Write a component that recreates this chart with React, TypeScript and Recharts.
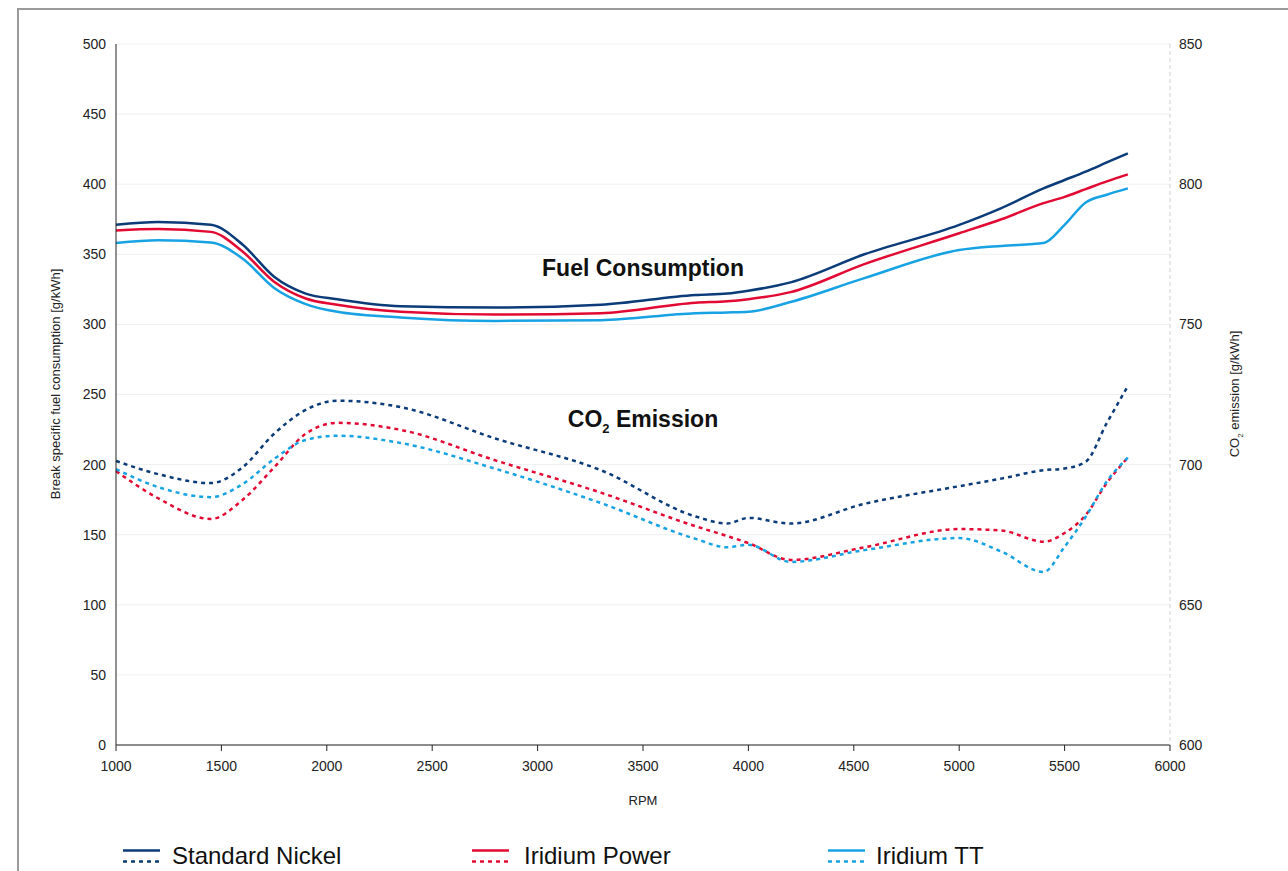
import React from 'react';
import { LineChart, Line, XAxis, YAxis, CartesianGrid } from 'recharts';

const rpm = [1000, 1200, 1450, 1600, 1750, 1900, 2050, 2350, 2800, 3300, 3750, 3900, 4000, 4200, 4550, 5000, 5200, 5400, 5500, 5600, 5700, 5800];

// fuel consumption, left axis [g/kWh]
const nickelFuel = [371, 373, 371, 357, 334, 322, 318, 313, 312, 314, 321, 322, 324, 330, 350, 371, 383, 397, 403, 409, 415.5, 422];
const powerFuel = [367, 368, 366, 352, 330.5, 318.5, 314, 309, 307, 308, 315.5, 316.5, 318, 323, 343, 365, 375, 386.5, 391, 396.5, 402, 407];
const ttFuel = [358, 360, 358.5, 347, 326, 314.5, 309, 305, 302.5, 303, 308, 308.5, 309, 316, 333, 353, 356, 358, 371, 387, 392.5, 397];

// CO2 emission, right axis [g/kWh]
const nickelCo2 = [701.3, 696.6, 693.4, 699, 711, 719.5, 722.8, 720.5, 709.3, 698, 681.5, 679, 681, 679, 686, 692.3, 695, 698, 698.6, 701, 714.8, 728];
const powerCo2 = [697.7, 688, 680.6, 687.4, 699, 711, 714.9, 712.4, 701.5, 690, 678, 674.5, 672, 666, 670.5, 677, 676.5, 672.5, 675.6, 682, 693.4, 702.5];
const ttCo2 = [698.4, 692, 688.4, 693, 702, 708.8, 710.3, 707.7, 698.5, 686.3, 673.5, 670.5, 671.4, 665.3, 669.5, 673.8, 669, 661.7, 670.7, 681.4, 694, 702.5];

const rpmTicks = [1000, 1500, 2000, 2500, 3000, 3500, 4000, 4500, 5000, 5500, 6000];
const fuelTicks = [0, 50, 100, 150, 200, 250, 300, 350, 400, 450, 500];
const co2Ticks = [600, 650, 700, 750, 800, 850];

const series = [
  { name: 'Standard Nickel', color: '#0b3b78', fuel: 'nickelFuel', co2: 'nickelCo2' },
  { name: 'Iridium Power', color: '#e20a33', fuel: 'powerFuel', co2: 'powerCo2' },
  { name: 'Iridium TT', color: '#17a2e4', fuel: 'ttFuel', co2: 'ttCo2' },
];

const data = rpm.map((r, i) => ({
  rpm: r,
  nickelFuel: nickelFuel[i],
  powerFuel: powerFuel[i],
  ttFuel: ttFuel[i],
  nickelCo2: nickelCo2[i],
  powerCo2: powerCo2[i],
  ttCo2: ttCo2[i],
}));

const FONT = '"Liberation Sans", Arial, Helvetica, sans-serif';
const tickStyle = { fontSize: 14, fill: '#222', fontFamily: FONT };

const legendPos = [
  { icon: 123, text: 172 },
  { icon: 472, text: 524 },
  { icon: 828, text: 876 },
];

export default function App() {
  return (
    <div style={{ position: 'fixed', left: 0, top: 0, width: 1288, height: 871, overflow: 'hidden', background: '#fff', fontFamily: FONT }}>
      <div style={{ position: 'absolute', left: 17, top: 8, right: 0, bottom: 0, borderTop: '2px solid #9a9a9a', borderLeft: '2px solid #9a9a9a' }} />

      <div style={{ position: 'absolute', left: 0, top: 0 }}>
        <LineChart width={1288} height={871} data={data} margin={{ top: 44, right: 58, left: 56, bottom: 96 }}>
          <CartesianGrid yAxisId="left" vertical={false} stroke="#efefef" />
          <XAxis
            dataKey="rpm"
            type="number"
            domain={[1000, 6000]}
            ticks={rpmTicks}
            height={30}
            stroke="#222"
            tick={tickStyle}
            tickSize={6}
            tickMargin={10}
            interval={0}
          />
          <YAxis
            yAxisId="left"
            domain={[0, 500]}
            ticks={fuelTicks}
            width={60}
            stroke="#222"
            tick={tickStyle}
            tickLine={false}
            tickSize={6}
            tickMargin={4}
            interval={0}
          />
          <YAxis
            yAxisId="right"
            orientation="right"
            domain={[600, 850]}
            ticks={co2Ticks}
            width={60}
            axisLine={{ stroke: '#cfcfcf', strokeDasharray: '4 3' }}
            tick={tickStyle}
            tickLine={false}
            tickSize={6}
            tickMargin={3}
            interval={0}
          />
          {series.map((s) => (
            <Line
              key={s.fuel}
              yAxisId="left"
              type="monotone"
              dataKey={s.fuel}
              stroke={s.color}
              strokeWidth={2.5}
              dot={false}
              isAnimationActive={false}
            />
          ))}
          {series.map((s) => (
            <Line
              key={s.co2}
              yAxisId="right"
              type="monotone"
              dataKey={s.co2}
              stroke={s.color}
              strokeWidth={2.5}
              strokeDasharray="4 4"
              dot={false}
              isAnimationActive={false}
            />
          ))}
        </LineChart>
      </div>

      <div style={{ position: 'absolute', left: 643, top: 268, transform: 'translate(-50%, -50%)', fontSize: 23, fontWeight: 'bold', color: '#111', whiteSpace: 'nowrap' }}>
        Fuel Consumption
      </div>
      <div style={{ position: 'absolute', left: 643, top: 421, transform: 'translate(-50%, -50%)', fontSize: 23, fontWeight: 'bold', color: '#111', whiteSpace: 'nowrap' }}>
        CO<sub style={{ fontSize: 13 }}>2</sub> Emission
      </div>

      <div style={{ position: 'absolute', left: 55, top: 384, transform: 'translate(-50%, -50%) rotate(-90deg)', fontSize: 13, color: '#222', whiteSpace: 'nowrap' }}>
        Break specific fuel consumption [g/kWh]
      </div>
      <div style={{ position: 'absolute', left: 1236, top: 394, transform: 'translate(-50%, -50%) rotate(-90deg)', fontSize: 13, color: '#222', whiteSpace: 'nowrap' }}>
        CO<sub style={{ fontSize: 8 }}>2</sub> emission [g/kWh]
      </div>
      <div style={{ position: 'absolute', left: 643, top: 800, transform: 'translate(-50%, -50%)', fontSize: 13, color: '#222' }}>
        RPM
      </div>

      {series.map((s, i) => (
        <React.Fragment key={s.name}>
          <svg style={{ position: 'absolute', left: legendPos[i].icon, top: 846 }} width={38} height={20}>
            <line x1={0} y1={4.5} x2={37} y2={4.5} stroke={s.color} strokeWidth={2.5} />
            <line x1={0} y1={15.5} x2={37} y2={15.5} stroke={s.color} strokeWidth={2.5} strokeDasharray="4 4" />
          </svg>
          <div style={{ position: 'absolute', left: legendPos[i].text, top: 856, transform: 'translateY(-50%)', fontSize: 24, color: '#111', whiteSpace: 'nowrap' }}>
            {s.name}
          </div>
        </React.Fragment>
      ))}
    </div>
  );
}
